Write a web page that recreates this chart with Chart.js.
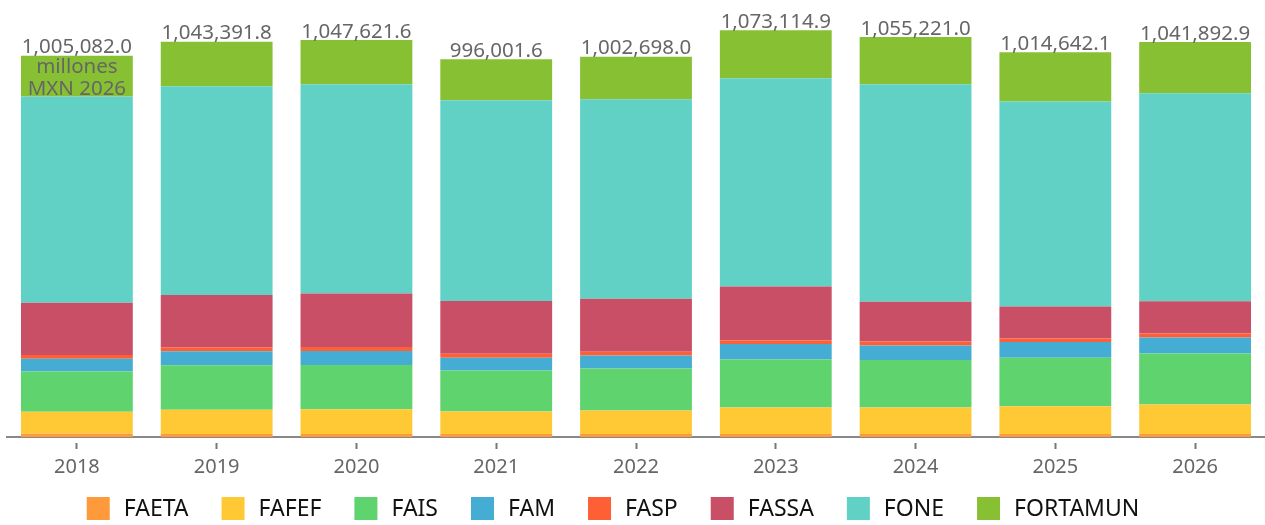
<!DOCTYPE html>
<html lang="es">
<head>
<meta charset="utf-8">
<title>Aportaciones federales</title>
<script src="https://cdn.jsdelivr.net/npm/chart.js@4"></script>
<style>
  html, body { margin: 0; padding: 0; background: #fff; }
  #wrap { width: 1265px; height: 525px; position: relative; }
</style>
</head>
<body>
<div id="wrap"><canvas id="fondosChart"></canvas></div>
<script>
// Datos (millones de pesos MXN 2026)
const years = ['2018', '2019', '2020', '2021', '2022', '2023', '2024', '2025', '2026'];
const faeta = [8700, 8000, 8000, 8000, 8000, 8000, 8000, 8000, 8000];
const fafef = [58000, 64000, 65000, 59000, 61600, 69500, 69500, 73200, 77500];
const fais = [106000, 117000, 117000, 108400, 111000, 126900, 125300, 127700, 134800];
const fam = [34000, 37000, 37000, 33500, 34400, 40700, 38600, 41500, 42300];
const fasp = [9800, 10600, 10600, 10600, 9800, 9500, 10600, 9500, 10600];
const fassa = [137500, 138000, 141000, 139300, 140100, 142700, 105000, 84600, 84600];
const fone = [544000, 550600, 551600, 529600, 526000, 549000, 573700, 540400, 549100];
const fortamun = [107400, 117300, 117200, 107900, 112000, 126900, 124500, 129800, 134800];
const totals = [1005082.0, 1043391.8, 1047621.6, 996001.6, 1002698.0, 1073114.9, 1055221.0, 1014642.1, 1041892.9];

const FONT = "'Noto Sans', sans-serif";

// etiquetas de total encima de cada barra
const totalLabels = {
    id: 'totalLabels',
    afterDatasetsDraw(chart) {
        const ctx = chart.ctx;
        const last = chart.getDatasetMeta(chart.data.datasets.length - 1);
        ctx.save();
        ctx.font = '20.5px ' + FONT;
        ctx.fillStyle = '#666';
        ctx.textAlign = 'center';
        ctx.textBaseline = 'bottom';
        last.data.forEach((bar, i) => {
            const txt = totals[i].toLocaleString('en-US', { minimumFractionDigits: 1, maximumFractionDigits: 1 });
            ctx.fillText(txt, bar.x, bar.y + 2);
            if (i === 0) {
                ctx.textBaseline = 'top';
                ctx.fillText('millones', bar.x, bar.y + 1);
                ctx.fillText('MXN 2026', bar.x, bar.y + 23);
                ctx.textBaseline = 'bottom';
            }
        });
        ctx.restore();
    }
};

// leyenda dibujada a mano (para controlar el espaciado)
const bottomLegend = {
    id: 'bottomLegend',
    afterDraw(chart) {
        const ctx = chart.ctx;
        const box = 23, gap = 14, pad = 33, cy = 508.5;
        ctx.save();
        ctx.font = '23px ' + FONT;
        ctx.textBaseline = 'middle';
        ctx.textAlign = 'left';
        const items = chart.data.datasets.map(d => ({ text: d.label, color: d.backgroundColor, w: ctx.measureText(d.label).width }));
        const total = items.reduce((s, it) => s + box + gap + it.w, 0) + pad * (items.length - 1);
        let x = 613 - total / 2;
        items.forEach(it => {
            ctx.fillStyle = it.color;
            ctx.fillRect(x, cy - box / 2, box, box);
            ctx.fillStyle = '#111';
            ctx.fillText(it.text, x + box + gap, cy + 1);
            x += box + gap + it.w + pad;
        });
        ctx.restore();
    }
};

const series = [
    ['FAETA', faeta, '#ff9a3c'],
    ['FAFEF', fafef, '#ffc935'],
    ['FAIS', fais, '#5fd36e'],
    ['FAM', fam, '#45acd4'],
    ['FASP', fasp, '#ff5f34'],
    ['FASSA', fassa, '#c84f66'],
    ['FONE', fone, '#61d1c6'],
    ['FORTAMUN', fortamun, '#88c034']
];

const data = {
    labels: years,
    datasets: series.map(s => ({
        label: s[0],
        data: s[1],
        backgroundColor: s[2],
        borderWidth: 0,
        categoryPercentage: 0.8,
        barPercentage: 1
    }))
};

const config = {
    type: 'bar',
    data: data,
    plugins: [totalLabels, bottomLegend],
    options: {
        responsive: true,
        maintainAspectRatio: false,
        animation: false,
        layout: { padding: { left: 7, right: 0, top: 20, bottom: 40 } },
        plugins: {
            legend: { display: false },
            tooltip: { enabled: false }
        },
        scales: {
            x: {
                stacked: true,
                grid: {
                    display: true,
                    drawOnChartArea: false,
                    offset: false,
                    tickLength: 12,
                    tickColor: '#777',
                    tickWidth: 2,
                    tickBorderDash: [7, 5],
                    tickBorderDashOffset: 7
                },
                border: { color: '#888', width: 2 },
                ticks: { color: '#666', font: { family: FONT, size: 20 }, padding: 6 }
            },
            y: {
                stacked: true,
                display: false,
                min: 0,
                max: 1100000
            }
        }
    }
};

new Chart(document.getElementById('fondosChart').getContext('2d'), config);
</script>
</body>
</html>
